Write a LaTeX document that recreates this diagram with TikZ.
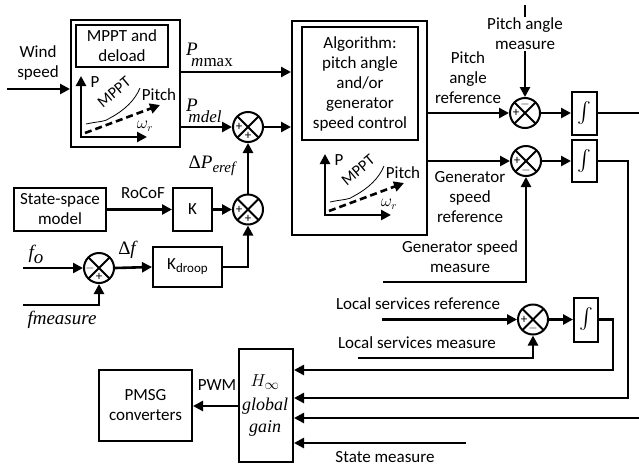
\documentclass[tikz,border=0pt]{standalone}
\usepackage{amsmath}
\usepackage{fontspec}
\setmainfont{Carlito}
\newfontfamily\tms{Liberation Serif}
\usetikzlibrary{arrows.meta}
\tikzset{
  tip/.tip={Triangle[length=10pt,width=10pt]},
  chart/.pic={
    \draw[line width=2.6pt, {tip}-{tip}] (0,-61) -- (0,0) -- (66,0);
    \draw[line width=0.8pt] (5,-13) .. controls (19,-16) and (24,-15) .. (29,-19) .. controls (44,-27) and (54,-37) .. (59,-49);
    \draw[line width=2.6pt, dash pattern=on 7pt off 4pt, -{tip}] (4,-4) -- (79,-32);
    \node[inner sep=0pt] (-p) at (14,-55) {P};
    \node[inner sep=0pt, rotate=40, font=\fontsize{16}{16}\selectfont] (-m) at (33,-45) {MPPT};
    \node[inner sep=0pt] (-t) at (78,-42) {Pitch};
    \node[inner sep=0pt, font=\fontsize{16}{16}\selectfont] (-w) at (64,-11) {$\omega_r$};
  }
}
\begin{document}
\begin{tikzpicture}[x=1pt,y=-1pt,
  every node/.style={font=\fontsize{17}{20}\selectfont},
  box/.style={draw, line width=2pt, inner sep=0pt, align=center},
  sumn/.style={circle, draw, line width=2pt, minimum size=30pt, inner sep=0pt,
    path picture={\draw[line width=2pt] (path picture bounding box.north west) -- (path picture bounding box.south east) (path picture bounding box.north east) -- (path picture bounding box.south west);}},
  sig/.style={line width=2.6pt, -{tip}},
  wire/.style={line width=2.6pt},
  sgn/.style={font=\fontsize{13}{13}\selectfont, inner sep=0pt},
  lbl/.style={align=center, inner sep=0pt},
  ser/.style={font=\fontsize{19}{20}\selectfont\tms\itshape, inner sep=0pt},
  intg/.style={box, font=\fontsize{20}{20}\selectfont},
]
\useasboundingbox (0,0) rectangle (639,469);

% --- boxes ---
\node[box, minimum width=109pt, minimum height=127pt] (mppt) at (125.5,83.5) {};
\node[box, minimum width=92pt, minimum height=42pt] (mpptin) at (122,46) {MPPT and\\deload};
\pic (c1) at (81,137) {chart};
\node[box, minimum width=135pt, minimum height=214pt] (alg) at (359.5,128) {};
\node[box, minimum width=116pt, minimum height=113pt] (algin) at (360,83.5) {Algorithm:\\pitch angle\\and/or\\generator\\speed control};
\pic (c2) at (325,215) {chart};

\node[box, minimum width=92pt, minimum height=43pt] (ss) at (60,209.5) {State-space\\model};
\node[box, minimum width=39pt, minimum height=43pt] (k) at (192.5,209.5) {K};
\node[box, minimum width=69pt, minimum height=40pt] (kd) at (187.5,267) {K\raisebox{-3pt}{\fontsize{13}{13}\selectfont droop}};
\node[intg, minimum width=25pt, minimum height=43pt] (i1) at (584.5,113) {$\int$};
\node[intg, minimum width=25pt, minimum height=42pt] (i2) at (584.5,161) {$\int$};
\node[intg, minimum width=24pt, minimum height=44pt] (i3) at (586,319.5) {$\int$};
\node[box, minimum width=54pt, minimum height=113pt] (h) at (266,405.5) {};
\node[box, minimum width=93pt, minimum height=71pt] (pm) at (145.5,405.5) {PMSG\\converters};

% --- summing junctions ---
\node[sumn] (s1) at (248,127) {};
\node[sumn] (s2) at (248,209.5) {};
\node[sumn] (s3) at (99,268) {};
\node[sumn] (sp) at (525,113) {};
\node[sumn] (sg) at (526,161) {};
\node[sumn] (sl) at (533,319.5) {};

\node[sgn] (s1a) at ([xshift=-9pt]s1.center) {+};
\node[sgn] (s1b) at ([yshift=-9pt]s1.center) {+};
\node[sgn] (s2a) at ([xshift=-9pt]s2.center) {+};
\node[sgn] (s2b) at ([yshift=-9pt]s2.center) {+};
\node[sgn] (s3a) at ([xshift=-9pt]s3.center) {$-$};
\node[sgn] (s3b) at ([yshift=-9pt]s3.center) {+};
\node[sgn] (spa) at ([xshift=-9pt]sp.center) {+};
\node[sgn] (spb) at ([yshift=9pt]sp.center) {$-$};
\node[sgn] (sga) at ([xshift=-9pt]sg.center) {+};
\node[sgn] (sgb) at ([yshift=-9pt]sg.center) {$-$};
\node[sgn] (sla) at ([xshift=-9pt]sl.center) {+};
\node[sgn] (slb) at ([yshift=-9pt]sl.center) {$-$};

% --- connectors ---
\coordinate (wind) at (7,89);
\draw[sig] (wind) -- (wind -| mppt.west);
\coordinate (ymax) at (0,72);
\draw[sig] (ymax -| mppt.east) -- (ymax -| alg.west);
\draw[sig] (s1 -| mppt.east) -- (s1.west);
\draw[sig] (s1.east) -- (s1 -| alg.west);
\draw[sig] (s2.north) -- (s1.south);
\draw[sig] (ss.east) -- (k.west);
\draw[sig] (k.east) -- (s2.west);
\draw[sig] (kd.east) -- (kd -| s2) -- (s2.south);
\coordinate (fo) at (23,268);
\draw[sig] (fo) -- (s3.west);
\coordinate (fm) at (23,305);
\draw[sig] (fm) -- (fm -| s3) -- (s3.south);
\draw[sig] (s3.east) -- (kd.west);

\draw[sig] (sp -| alg.east) -- (sp.west);
\draw[sig] (sp.east) -- (i1.west);
\coordinate (o1) at (639,113);
\draw[wire] (i1.east) -- (o1);
\coordinate (pm0) at (525,5);
\draw[sig] (pm0) -- (sp.north);

\draw[sig] (sg -| alg.east) -- (sg.west);
\draw[sig] (sg.east) -- (i2.west);
\coordinate (r1) at (628,161);
\coordinate (y398) at (0,398);
\draw[sig] (i2.east) -- (r1) -- (r1 |- y398) -- (y398 -| h.east);
\coordinate (gm) at (383,282);
\draw[sig] (gm) -- (gm -| sg) -- (sg.south);

\coordinate (lr) at (382,319.5);
\draw[sig] (lr) -- (sl.west);
\draw[sig] (sl.east) -- (i3.west);
\coordinate (r3) at (613,319.5);
\coordinate (y370) at (0,370);
\draw[sig] (i3.east) -- (r3) -- (r3 |- y370) -- (y370 -| h.east);
\coordinate (lm) at (358,358);
\draw[sig] (lm) -- (lm -| sl) -- (sl.south);
\coordinate (e418) at (639,418);
\draw[sig] (e418) -- (e418 -| h.east);
\coordinate (st) at (466,443);
\draw[sig] (st) -- (st -| h.east);
\coordinate (y406) at (0,406);
\draw[sig] (y406 -| h.west) -- (y406 -| pm.east);

% --- labels ---
\node[lbl] (lwind) at (38,63) {Wind\\speed};
\node[ser] (lp1) at (192,49) {P};
\node[ser, font=\fontsize{17}{20}\selectfont\tms] (lp1s) at (212,63) {\textit{m}max};
\node[ser] (lp2) at (192,105) {P};
\node[ser, font=\fontsize{17}{20}\selectfont\tms\itshape] (lp2s) at (205,117) {mdel};
\node[ser] (ldp) at (212,166) {{\upshape Δ}P\raisebox{-4pt}{\fontsize{15}{15}\selectfont eref}};
\node[lbl] (lroc) at (143,193) {RoCoF};
\node[ser] (lfo) at (36,254) {f\raisebox{-5pt}{o}};
\node[ser] (lfm) at (62,320) {fmeasure};
\node[ser] (ldf) at (127,250) {{\upshape Δ}f};
\node[lbl, fill=white, inner sep=1pt] (lpm) at (525,34) {Pitch angle\\measure};
\node[lbl] (lpr) at (468,78) {Pitch\\angle\\reference};
\node[lbl] (lgr) at (470,197) {Generator\\speed\\reference};
\node[lbl] (lgm) at (460,257) {Generator speed\\measure};
\node[lbl] (llr) at (418,304) {Local services reference};
\node[lbl] (llm) at (417,343) {Local services measure};
\node[lbl] (lst) at (385,457) {State measure};
\node[lbl] (lpwm) at (217,385) {PWM};
\node[ser] (lh) at (265,382) {$H_{\infty}$};
\node[ser, font=\fontsize{18}{20}\selectfont\tms\itshape] (lg1) at (265,406) {global};
\node[ser, font=\fontsize{18}{20}\selectfont\tms\itshape] (lg2) at (265,428) {gain};
\end{tikzpicture}
\end{document}
